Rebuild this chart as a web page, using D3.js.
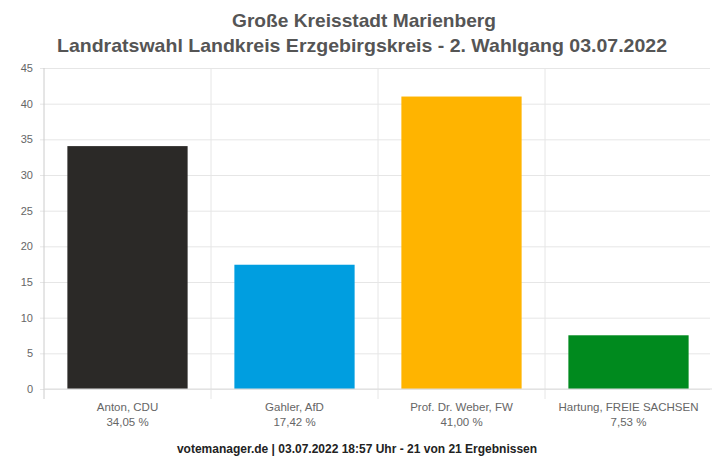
<!DOCTYPE html>
<html>
<head>
<meta charset="utf-8">
<script src="https://cdn.jsdelivr.net/npm/d3@7"></script>
<style>
  body { margin: 0; background: #fff; overflow: hidden; }
  text { font-family: "Liberation Sans", Arial, sans-serif; }
</style>
</head>
<body>
<script>
var candidates = ["Anton, CDU", "Gahler, AfD", "Prof. Dr. Weber, FW", "Hartung, FREIE SACHSEN"];
var shares = [34.05, 17.42, 41.00, 7.53];
var shareLabels = ["34,05 %", "17,42 %", "41,00 %", "7,53 %"];
var colors = ["#2b2927", "#009ee0", "#ffb400", "#008a1e"];
var yTicks = [0, 5, 10, 15, 20, 25, 30, 35, 40, 45];

var width = 712, height = 459;
var margin = {top: 68, right: 0, bottom: 70, left: 44};
var innerWidth = width - margin.left - margin.right;
var innerHeight = height - margin.top - margin.bottom;

var svg = d3.select("body").append("svg")
  .attr("width", width)
  .attr("height", height)
  .style("display", "block");

svg.append("text")
  .attr("x", 364).attr("y", 27)
  .attr("text-anchor", "middle")
  .attr("font-size", 19).attr("font-weight", "bold")
  .attr("fill", "#555")
  .attr("textLength", 264)
  .attr("lengthAdjust", "spacingAndGlyphs")
  .text("Große Kreisstadt Marienberg");

svg.append("text")
  .attr("x", 362).attr("y", 52)
  .attr("text-anchor", "middle")
  .attr("font-size", 19).attr("font-weight", "bold")
  .attr("fill", "#555")
  .attr("textLength", 610)
  .attr("lengthAdjust", "spacingAndGlyphs")
  .text("Landratswahl Landkreis Erzgebirgskreis - 2. Wahlgang 03.07.2022");

var g = svg.append("g")
  .attr("transform", `translate(${margin.left},${margin.top})`);

var x = d3.scaleBand()
  .domain(candidates)
  .range([0, innerWidth])
  .paddingInner(0.28)
  .paddingOuter(0.14);

var y = d3.scaleLinear()
  .domain([0, 45])
  .range([innerHeight, 0]);

// horizontal grid + y labels
var yAxis = d3.axisLeft(y)
  .tickValues(yTicks)
  .tickSize(-innerWidth - 4)
  .tickPadding(8);

var yG = g.append("g").call(yAxis);
yG.select(".domain").remove();
yG.selectAll(".tick line")
  .attr("x1", -4)
  .attr("x2", innerWidth - 2)
  .attr("stroke", "#e6e6e6");
yG.selectAll(".tick text")
  .attr("font-size", 11)
  .attr("fill", "#666")
  .attr("x", -11);

// vertical grid at category boundaries
var bounds = candidates.map(function (d) { return x(d) - x.step() * x.paddingInner() / 2; }).slice(1);
g.selectAll(".vgrid").data(bounds)
  .enter().append("line")
  .attr("class", "vgrid")
  .attr("x1", function (d) { return d; })
  .attr("x2", function (d) { return d; })
  .attr("y1", 0)
  .attr("y2", innerHeight + 10)
  .attr("stroke", "#e6e6e6");

// y axis line
g.append("line")
  .attr("x1", 0).attr("x2", 0)
  .attr("y1", 0).attr("y2", innerHeight + 10)
  .attr("stroke", "#ccc");

// bars
g.selectAll(".bar").data(candidates)
  .enter().append("rect")
  .attr("class", "bar")
  .attr("x", function (d) { return x(d); })
  .attr("width", x.bandwidth())
  .attr("y", function (d, i) { return y(shares[i]); })
  .attr("height", function (d, i) { return innerHeight - y(shares[i]); })
  .attr("fill", function (d, i) { return colors[i]; });

// baseline
g.append("line")
  .attr("x1", 0).attr("x2", innerWidth)
  .attr("y1", innerHeight).attr("y2", innerHeight)
  .attr("stroke", "#ddd");

// category labels
var xAxis = d3.axisBottom(x).tickSize(0).tickPadding(14);
var xG = g.append("g")
  .attr("transform", `translate(0,${innerHeight})`)
  .call(xAxis);
xG.select(".domain").remove();
xG.selectAll(".tick text")
  .attr("font-size", 11.5)
  .attr("fill", "#666");

xG.selectAll(".tick").append("text")
  .attr("y", 37)
  .attr("text-anchor", "middle")
  .attr("font-size", 11.5)
  .attr("fill", "#666")
  .text(function (d, i) { return shareLabels[i]; });

svg.append("text")
  .attr("x", 357).attr("y", 453)
  .attr("text-anchor", "middle")
  .attr("font-size", 12).attr("font-weight", "bold")
  .attr("fill", "#222")
  .text("votemanager.de | 03.07.2022 18:57 Uhr - 21 von 21 Ergebnissen");
</script>
</body>
</html>
